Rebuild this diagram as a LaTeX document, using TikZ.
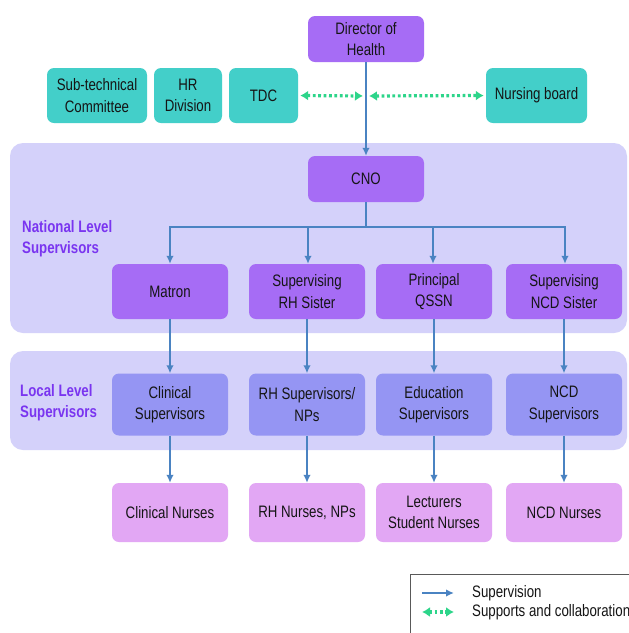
\documentclass[tikz,border=0pt]{standalone}
\usepackage{fontspec}
\setmainfont[FakeStretch=0.80]{Liberation Sans}
\usetikzlibrary{arrows.meta}
\definecolor{teal1}{HTML}{43CFC9}
\definecolor{purp}{HTML}{A66CF5}
\definecolor{band}{HTML}{D4D1FA}
\definecolor{peri}{HTML}{9595F3}
\definecolor{orch}{HTML}{E2A7F4}
\definecolor{lab}{HTML}{7A35F0}
\definecolor{supblue}{HTML}{4A83C2}
\definecolor{colgreen}{HTML}{2DD58A}
\definecolor{txt}{HTML}{151515}
\tikzset{
  box/.style={rounded corners=7pt, inner sep=0pt, align=center, text=txt,
    font=\fontsize{16.6}{21.5}\selectfont},
  topbox/.style={box, fill=teal1, minimum height=55pt},
  pbox/.style={box, fill=purp, minimum width=116pt},
  lbox/.style={box, fill=peri, minimum width=116pt, minimum height=62pt},
  nbox/.style={box, fill=orch, minimum width=116pt, minimum height=59pt},
  bandbox/.style={fill=band, rounded corners=13pt},
  sup/.style={draw=supblue, line width=2.2pt, -{Latex[length=8pt,width=7.5pt]}},
  collab/.style={draw=colgreen, line width=3.2pt, dash pattern=on 2.8pt off 2.6pt,
    {Latex[length=8pt,width=10pt]}-{Latex[length=8pt,width=10pt]}},
  lvl/.style={text=lab, align=left, anchor=west, inner sep=0pt,
    font=\bfseries\fontsize{16.6}{21}\selectfont},
  legtxt/.style={anchor=west, inner sep=0pt, text=txt, font=\fontsize{16.6}{20}\selectfont}
}
\begin{document}
\begin{tikzpicture}[x=1pt,y=-1pt]
\useasboundingbox (0,0) rectangle (629,633);
\fill[white] (0,0) rectangle (629,633);
% bands
\fill[bandbox] (10,143) rectangle (627,333);
\fill[bandbox] (10,351) rectangle (627,450);
% level labels
\node[lvl] (natl) at (22,238.5) {National Level\\Supervisors};
\node[lvl] (locl) at (20,403) {Local Level\\Supervisors};
% top
\node[pbox, minimum height=46pt] (dir) at (366,39) {Director of\\Health};
\node[topbox, minimum width=100pt] (stc) at (97,95.5) {Sub-technical\\Committee};
\node[topbox, minimum width=68pt] (hr) at (188,95.5) {HR\\Division};
\node[topbox, minimum width=69pt] (tdc) at (263.5,95.5) {TDC};
\node[topbox, minimum width=101pt] (nb) at (536.5,95.5) {Nursing board};
\coordinate (mid) at (366,96);
% CNO
\node[pbox, minimum height=46pt] (cno) at (366,179) {CNO};
\coordinate (br) at (366,227);
% row 2
\node[pbox, minimum height=55pt] (mat) at (170,291.5) {Matron};
\node[pbox, minimum height=55pt] (rhs) at (307,291.5) {Supervising\\RH Sister};
\node[pbox, minimum height=55pt] (qssn) at (434,291.5) {Principal\\QSSN};
\node[pbox, minimum height=55pt] (ncds) at (564,291.5) {Supervising\\NCD Sister};
% row 3
\node[lbox] (cs) at (170,404.5) {Clinical\\Supervisors};
\node[lbox] (rhsup) at (307,404.5) {RH Supervisors/\\NPs};
\node[lbox] (es) at (434,404.5) {Education\\Supervisors};
\node[lbox] (ncdsup) at (564,404.5) {NCD\\Supervisors};
% row 4
\node[nbox] (cn) at (170,512.5) {Clinical Nurses};
\node[nbox] (rhn) at (307,512.5) {RH Nurses, NPs};
\node[nbox] (lsn) at (434,512.5) {Lecturers\\Student Nurses};
\node[nbox] (ncdn) at (564,512.5) {NCD Nurses};
% connectors
\draw[sup] (dir.south) -- (cno.north);
\draw[collab, shorten <=2pt, shorten >=3pt] (tdc.east) -- (mid);
\draw[collab, shorten <=3pt, shorten >=2pt] (mid) -- (nb.west);
\draw[sup] (cno.south) -- (br) -| (mat.north);
\draw[sup] (cno.south) -- (br) -| ([xshift=1pt]rhs.north);
\draw[sup] (cno.south) -- (br) -| ([xshift=-1pt]qssn.north);
\draw[sup] (cno.south) -- (br) -| ([xshift=1pt]ncds.north);
\draw[sup] (mat.south) -- (cs.north);
\draw[sup] (rhs.south) -- (rhsup.north);
\draw[sup] (qssn.south) -- (es.north);
\draw[sup] (ncds.south) -- (ncdsup.north);
\draw[sup] (cs.south) -- (cn.north);
\draw[sup] (rhsup.south) -- (rhn.north);
\draw[sup] (es.south) -- (lsn.north);
\draw[sup] (ncdsup.south) -- (ncdn.north);
% legend
\draw[draw=black!65, line width=1pt] (410,574) -- (640,574);
\draw[draw=black!65, line width=1pt] (410,574) -- (410,640);
\coordinate (l1a) at (422,593);
\coordinate (l1b) at (454,593);
\coordinate (l2a) at (422,612);
\coordinate (l2b) at (454,612);
\draw[sup] (l1a) -- (l1b);
\draw[collab] (l2a) -- (l2b);
\node[legtxt] (lt1) at (472,593) {Supervision};
\node[legtxt] (lt2) at (472,612) {Supports and collaboration};
\end{tikzpicture}
\end{document}
